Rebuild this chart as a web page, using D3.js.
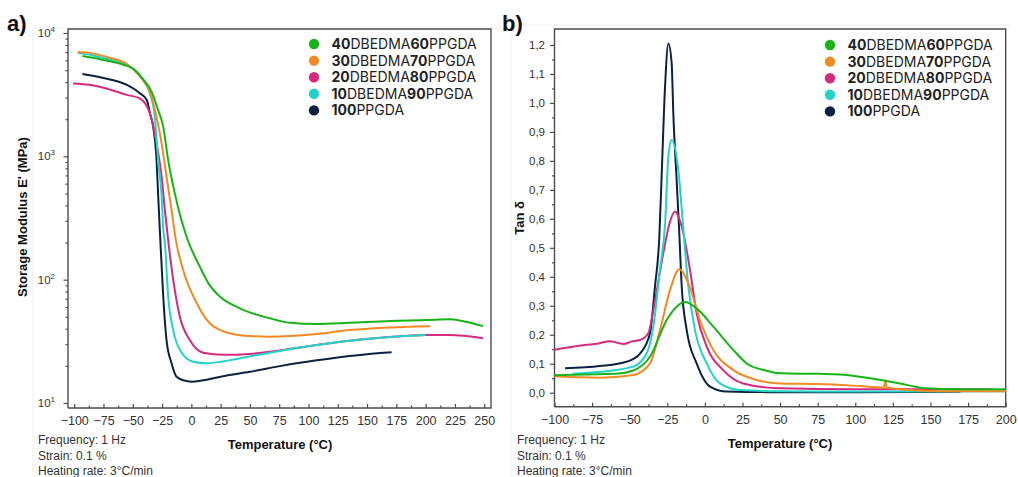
<!DOCTYPE html>
<html>
<head>
<meta charset="utf-8">
<script src="https://cdn.jsdelivr.net/npm/d3@7"></script>
<style>
body { margin: 0; background: #fff; }
text { font-family: "Liberation Sans", Arial, sans-serif; }
</style>
</head>
<body>
<svg id="chart" width="1018" height="477"></svg>
<script>
// series (legend order)
var seriesNames = ['40DBEDMA60PPGDA', '30DBEDMA70PPGDA', '20DBEDMA80PPGDA', '10DBEDMA90PPGDA', '100PPGDA'];
var seriesColors = ['#17b417', '#f28a24', '#d62a7e', '#22d3c8', '#0c2140'];
var drawOrder = [4, 2, 3, 1, 0];

// a) storage modulus E' (MPa) vs temperature (°C)
var storage40 = [[-93,6500],[-78,6120],[-60,5600],[-50,5150],[-42,4300],[-34,3350],[-28.4,2380],[-24,1740],[-19.8,933],[-14.1,500],[-4.1,223],[7.3,127],[15,92],[24.3,73],[41.4,58.6],[67,48.6],[84,44.8],[107,43.8],[135,44.8],[170,46.3],[201,47],[220,47.7],[232,46],[249,42]];
var storage30 = [[-97,7000],[-87,6900],[-70,6300],[-55,5600],[-44,4440],[-35.4,3350],[-29.7,2090],[-25.4,1280],[-21.2,684],[-16.9,367],[-13.2,209],[-7,120],[4.4,65],[18.6,42],[41.4,35.5],[67,34.5],[107,36.3],[135,39],[164,40.8],[204,42]];
var storage20 = [[-101,3900],[-87,3800],[-75,3600],[-64,3350],[-55,3150],[-44,2950],[-35.4,2240],[-29.7,1280],[-25.4,684],[-22.6,367],[-19.8,209],[-15.5,100],[-9.8,50],[-1.3,32.4],[10,25.6],[27,24.6],[50,25],[67,26],[107,29.5],[135,32],[164,34],[201,35.6],[221,35.6],[240,34.5],[249,33.5]];
var storage10 = [[-97,6900],[-85,6600],[-70,6100],[-55,5500],[-44,4570],[-40,4000],[-35.4,3240],[-31.2,2090],[-28.4,933],[-25.5,500],[-24,260],[-22.6,200],[-19.8,73],[-15.5,39],[-9.8,27],[1.5,21.6],[13,21],[41,23],[67,25.6],[107,29.5],[135,32],[164,34],[200,35.6]];
var storage100 = [[-93,4650],[-78,4380],[-55,3790],[-44,3250],[-38,2860],[-35.4,2240],[-32.6,1740],[-29.7,930],[-28.4,500],[-26.9,251],[-24,73],[-21.2,32.4],[-16.9,21],[-12.6,16.3],[-6,15.2],[0,14.9],[10,15.3],[27,16.5],[50,17.9],[78,20.1],[107,22.2],[135,24.1],[150,24.9],[171,25.8]];
var storageSeries = [storage40, storage30, storage20, storage10, storage100];

// b) tan delta vs temperature (°C)
var tan40 = [[-100,0.06],[-80,0.063],[-60,0.065],[-48,0.076],[-36.5,0.124],[-25.4,0.251],[-18.8,0.297],[-13.2,0.313],[-5.5,0.291],[5.6,0.228],[19,0.147],[27.8,0.101],[41,0.076],[50,0.067],[76,0.065],[90,0.063],[103,0.055],[120,0.041],[134,0.027],[147,0.015],[167,0.012],[200,0.012]];
var tan30 = [[-100,0.057],[-70,0.052],[-47.6,0.061],[-36.5,0.101],[-29.9,0.216],[-23.2,0.354],[-17,0.426],[-11,0.378],[-3.3,0.251],[5.6,0.147],[19,0.078],[34.4,0.044],[50,0.032],[76,0.03],[103,0.023],[119,0.018],[120,0.04],[121,0.018],[134,0.01],[156,0.005],[200,0.005]];
var tan20 = [[-100,0.148],[-85,0.161],[-70,0.171],[-63,0.178],[-58,0.172],[-54,0.168],[-48,0.178],[-43,0.182],[-37.6,0.205],[-34.3,0.285],[-27.7,0.481],[-23.2,0.59],[-19.9,0.625],[-15.4,0.573],[-9.9,0.424],[-5.5,0.274],[1.2,0.159],[12.2,0.078],[25.5,0.032],[50,0.015],[100,0.012],[190,0.012]];
var tan10 = [[-88,0.065],[-70,0.072],[-47.6,0.09],[-38.7,0.136],[-34.3,0.228],[-29.9,0.424],[-26.5,0.58],[-24.3,0.815],[-22.1,0.872],[-17.7,0.769],[-14.4,0.57],[-11,0.366],[-6.6,0.216],[1.2,0.101],[10,0.032],[23.3,0.009],[50,0.005],[120,0.004],[200,0.005]];
var tan100 = [[-93,0.084],[-70,0.092],[-52,0.107],[-43,0.136],[-36.5,0.205],[-33.2,0.366],[-30.3,0.538],[-28.7,0.757],[-26.5,1.056],[-24.3,1.205],[-22.1,1.137],[-21,0.964],[-18.8,0.734],[-17.2,0.57],[-15.4,0.366],[-12.1,0.216],[-5.5,0.101],[3.4,0.021],[14.5,0.004],[40,0.002],[100,0.002],[170,0.003]];
var tanSeries = [tan40, tan30, tan20, tan10, tan100];

// ticks
var xTicksA = d3.range(-100, 251, 25);
var xTicksB = d3.range(-100, 201, 25);
var yTicksA = [10, 100, 1000, 10000];
var yTicksB = d3.range(0, 1.21, 0.1);
var notes = ['Frequency: 1 Hz', 'Strain: 0.1 %', 'Heating rate: 3°C/min'];

var svg = d3.select('#chart');
var axisCol = '#4d4d4d';

// scales
var xA = d3.scaleLinear().domain([-105.3, 255.8]).range([68, 491]);
var yA = d3.scaleLog().domain([9.11, 10775]).range([408, 29]);
var xB = d3.scaleLinear().domain([-100, 200]).range([554.5, 1005.7]);
var yB = d3.scaleLinear().domain([-0.0483, 1.2552]).range([406.7, 29]);

// faint panel edges from the source picture
svg.append('path').attr('d', 'M33,477V28H500 M511,477V25H1010')
    .attr('fill', 'none').attr('stroke', '#efefef').attr('stroke-width', 1);

function frame(x, y) {
    var x0 = x.range()[0], x1 = x.range()[1], y0 = y.range()[0], y1 = y.range()[1];
    svg.append('path')
        .attr('d', 'M' + x0 + ',' + y0 + 'V' + y1 + 'H' + x1 + 'V' + y0 + 'H' + x0)
        .attr('fill', 'none').attr('stroke', axisCol).attr('stroke-width', 1.4);
}

function xAxis(x, y, ticks) {
    var minor = ticks.slice(0, -1).map(function(t) { return t + 12.5; });
    var g = svg.append('g').attr('transform', 'translate(0,' + y.range()[0] + ')');
    g.append('g').call(d3.axisBottom(x).tickValues(minor).tickSize(-2.5).tickFormat(''));
    g.append('g').call(d3.axisBottom(x).tickValues(ticks).tickSize(-4).tickPadding(8)
        .tickFormat(function(d) { return d < 0 ? '\u2212' + Math.abs(d) : d; }));
    g.selectAll('.domain').remove();
    g.selectAll('line').attr('stroke', axisCol).attr('stroke-width', 1.2);
    g.selectAll('text').attr('font-size', 12.5).attr('fill', '#333')
        .style('font-family', '"Liberation Sans", Arial, sans-serif');
}

frame(xA, yA);
frame(xB, yB);
xAxis(xA, yA, xTicksA);
xAxis(xB, yB, xTicksB);

// left log axis
var minorA = [];
[10, 100, 1000].forEach(function(p) { d3.range(2, 10).forEach(function(m) { minorA.push(m * p); }); });
var gA = svg.append('g').attr('transform', 'translate(' + xA.range()[0] + ',0)');
gA.append('g').call(d3.axisLeft(yA).tickValues(minorA).tickSize(2.5).tickFormat(''));
gA.append('g').call(d3.axisLeft(yA).tickValues(yTicksA).tickSize(4.5).tickFormat(''));
gA.selectAll('.domain').remove();
gA.selectAll('line').attr('stroke', axisCol).attr('stroke-width', 1.2);
var supLbl = gA.selectAll('.sup').data(yTicksA).enter().append('text')
    .attr('x', -13).attr('y', function(d) { return yA(d) + 4; })
    .attr('text-anchor', 'end').attr('font-size', 11.5).attr('fill', '#333');
supLbl.append('tspan').text('10');
supLbl.append('tspan').attr('dy', -5).attr('font-size', 8).text(function(d) { return Math.round(Math.log10(d)); });

// right linear axis
var gB = svg.append('g').attr('transform', 'translate(' + xB.range()[0] + ',0)');
gB.append('g').call(d3.axisLeft(yB).tickValues(d3.range(0.05, 1.21, 0.1)).tickSize(2.5).tickFormat(''));
gB.append('g').call(d3.axisLeft(yB).tickValues(yTicksB).tickSize(4.5).tickPadding(5)
    .tickFormat(function(d) { return d3.format('.1f')(d).replace('.', ','); }));
gB.selectAll('.domain').remove();
gB.selectAll('line').attr('stroke', axisCol).attr('stroke-width', 1.2);
gB.selectAll('text').attr('font-size', 11.5).attr('fill', '#333')
    .style('font-family', '"Liberation Sans", Arial, sans-serif');

// curves
var lineA = d3.line().x(function(d) { return xA(d[0]); }).y(function(d) { return yA(d[1]); }).curve(d3.curveMonotoneX);
var lineB = d3.line().x(function(d) { return xB(d[0]); }).y(function(d) { return yB(d[1]); }).curve(d3.curveMonotoneX);
drawOrder.forEach(function(i) {
    svg.append('path').datum(storageSeries[i]).attr('d', lineA)
        .attr('fill', 'none').attr('stroke', seriesColors[i]).attr('stroke-width', 2);
    svg.append('path').datum(tanSeries[i]).attr('d', lineB)
        .attr('fill', 'none').attr('stroke', seriesColors[i]).attr('stroke-width', 2);
});

// legends
function legend(cx, y0) {
    var g = svg.append('g');
    seriesNames.forEach(function(name, i) {
        var y = y0 + i * 16.6;
        g.append('circle').attr('cx', cx).attr('cy', y).attr('r', 5.2).attr('fill', seriesColors[i]);
        var t = g.append('text').attr('x', cx + 17.5).attr('y', y + 5)
            .attr('font-size', 14).attr('fill', '#222').style('font-family', 'Inter, "Noto Sans", sans-serif');
        name.split(/(\d+)/).filter(function(s) { return s; }).forEach(function(part) {
            t.append('tspan').text(part).attr('font-weight', /\d/.test(part) ? 700 : 400);
        });
    });
}
legend(314, 44);
legend(830, 45);

// titles
svg.append('text').attr('x', 280).attr('y', 449).attr('text-anchor', 'middle')
    .attr('font-size', 13).attr('font-weight', 'bold').attr('fill', '#111').text('Temperature (°C)');
svg.append('text').attr('x', 780).attr('y', 448).attr('text-anchor', 'middle')
    .attr('font-size', 13).attr('font-weight', 'bold').attr('fill', '#111').text('Temperature (°C)');
svg.append('text').attr('transform', 'translate(27,217) rotate(-90)').attr('text-anchor', 'middle')
    .attr('font-size', 13).attr('font-weight', 'bold').attr('fill', '#111').text("Storage Modulus E' (MPa)");
svg.append('text').attr('transform', 'translate(524,218) rotate(-90)').attr('text-anchor', 'middle')
    .attr('font-size', 13).attr('font-weight', 'bold').attr('fill', '#111').text('Tan δ');

svg.append('text').attr('x', 7).attr('y', 31).attr('font-size', 22).attr('font-weight', 'bold').attr('fill', '#111').text('a)');
svg.append('text').attr('x', 502).attr('y', 31).attr('font-size', 22).attr('font-weight', 'bold').attr('fill', '#111').text('b)');

// measurement notes
[38, 517].forEach(function(x) {
    svg.append('g').selectAll('text').data(notes).enter().append('text')
        .attr('x', x).attr('y', function(d, i) { return 444 + i * 15.5; })
        .attr('font-size', 12).attr('fill', '#333').text(function(d) { return d; });
});
</script>
</body>
</html>
